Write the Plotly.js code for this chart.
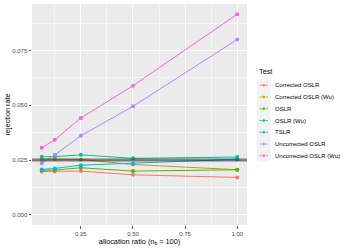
<!DOCTYPE html>
<html>
<head>
<meta charset="utf-8">
<script src="https://cdn.plot.ly/plotly-3.0.1.min.js"></script>
<style>html,body{margin:0;padding:0;background:#fff;}#chart{width:349px;height:249px;}</style>
</head>
<body>
<div id="chart"></div>
<script>
// ---- data ----
const allocationRatio = [0.0625, 0.125, 0.25, 0.5, 1];
const testNames = ["Corrected OSLR", "Corrected OSLR (Wu)", "OSLR", "OSLR (Wu)", "TSLR", "Uncorrected OSLR", "Uncorrected OSLR (Wu)"];
const correctedOSLR     = [0.0198, 0.0198, 0.0200, 0.0183, 0.0171];
const correctedOSLRWu   = [0.0255, 0.0255, 0.0253, 0.0230, 0.0206];
const OSLR              = [0.0203, 0.0205, 0.0215, 0.0200, 0.0206];
const OSLRWu            = [0.0265, 0.0266, 0.0274, 0.0258, 0.0264];
const TSLR              = [0.0207, 0.0212, 0.0227, 0.0235, 0.0254];
const uncorrectedOSLR   = [0.0236, 0.0274, 0.0361, 0.0495, 0.0800];
const uncorrectedOSLRWu = [0.0306, 0.0343, 0.0442, 0.0589, 0.0915];
const seriesValues = [correctedOSLR, correctedOSLRWu, OSLR, OSLRWu, TSLR, uncorrectedOSLR, uncorrectedOSLRWu];
const nominalLevel = 0.025;
const yTickVals = [0, 0.025, 0.05, 0.075];
const yTickText = ["0.000", "0.025", "0.050", "0.075"];
const xTickVals = [0.25, 0.5, 0.75, 1];
const xTickText = ["0.25", "0.50", "0.75", "1.00"];

// ---- style ----
const colors = ["#F8766D", "#C49A00", "#53B400", "#00C094", "#00B6EB", "#A58AFF", "#FB61D7"];
const FONT = "Liberation Sans, Arial, sans-serif";
const W = 349, H = 249, ML = 32, MR = 0, MT = 4, MB = 24;
const plotW = W - ML - MR, plotH = H - MT - MB;
const panelRight = 247;
const mainDomX = [0, (panelRight - ML) / plotW];
const keyX0 = 257, keyX1 = 270.5, keyY0 = 79.3, keyY1 = 161.7;
const toPX = px => (px - ML) / plotW;
const toPY = py => (H - MB - py) / plotH;

const traces = [];
testNames.forEach((name, i) => {
  traces.push({
    x: allocationRatio, y: seriesValues[i], type: "scatter", mode: "lines+markers",
    name: name, showlegend: false,
    line: {color: colors[i], width: 1},
    marker: {color: colors[i], size: 4},
    xaxis: "x", yaxis: "y", hoverinfo: "skip"
  });
});
// legend keys drawn in an overlay subplot
testNames.forEach((name, i) => {
  traces.push({
    x: [0.2, 0.5, 0.8], y: [i, i, i], type: "scatter", mode: "lines+markers",
    showlegend: false,
    line: {color: colors[i], width: 1},
    marker: {color: colors[i], size: [0, 4, 0]},
    xaxis: "x2", yaxis: "y2", hoverinfo: "skip"
  });
});

const annotations = testNames.map((name, i) => ({
  text: name, xref: "paper", yref: "y2", x: toPX(273), y: i,
  xanchor: "left", yanchor: "middle", showarrow: false,
  font: {family: FONT, size: 6, color: "#000"}
}));
annotations.push({
  text: "Test", xref: "paper", yref: "paper", x: toPX(keyX0 - 0.5), y: toPY(71),
  xanchor: "left", yanchor: "middle", showarrow: false,
  font: {family: FONT, size: 7.3, color: "#000"}
});

const layout = {
  width: W, height: H,
  margin: {l: ML, r: MR, t: MT, b: MB, pad: 0},
  paper_bgcolor: "#FFFFFF",
  plot_bgcolor: "#F2F2F2",
  showlegend: false,
  font: {family: FONT, size: 6, color: "#4D4D4D"},
  xaxis: {
    domain: mainDomX, range: [0.0156, 1.0469], autorange: false,
    tickvals: xTickVals, ticktext: xTickText,
    ticks: "outside", ticklen: 2.5, tickwidth: 0.8, tickcolor: "#333333",
    tickfont: {family: FONT, size: 6, color: "#4D4D4D"},
    showgrid: true, gridcolor: "#FFFFFF", gridwidth: 1,
    minor: {dtick: 0.125, tick0: 0, showgrid: true, gridcolor: "#FFFFFF", gridwidth: 0.5, ticks: ""},
    zeroline: false, showline: false,
    title: {text: "allocation ratio (n<sub>b</sub> = 100)", font: {family: FONT, size: 7.3, color: "#000"}, standoff: 1}
  },
  yaxis: {
    domain: [0, 1], range: [-0.00458, 0.09616], autorange: false,
    tickvals: yTickVals, ticktext: yTickText,
    ticks: "outside", ticklen: 2.5, tickwidth: 0.8, tickcolor: "#333333",
    tickfont: {family: FONT, size: 6, color: "#4D4D4D"},
    showgrid: true, gridcolor: "#FFFFFF", gridwidth: 1,
    minor: {dtick: 0.0125, tick0: 0, showgrid: true, gridcolor: "#FFFFFF", gridwidth: 0.5, ticks: ""},
    zeroline: false, showline: false,
    title: {text: "rejection rate", font: {family: FONT, size: 7.3, color: "#000"}, standoff: 0.5}
  },
  xaxis2: {
    domain: [toPX(keyX0), toPX(keyX1)], range: [0, 1], autorange: false, anchor: "y2",
    showgrid: false, zeroline: false, showticklabels: false, ticks: "", showline: false
  },
  yaxis2: {
    domain: [toPY(keyY1), toPY(keyY0)], range: [testNames.length - 0.5, -0.5], autorange: false, anchor: "x2",
    showgrid: false, zeroline: false, showticklabels: false, ticks: "", showline: false
  },
  shapes: [
    {type: "rect", xref: "x domain", yref: "y domain", x0: 0, x1: 1, y0: 0, y1: 1,
     fillcolor: "#EBEBEB", line: {width: 0}, layer: "below"},
    {type: "line", xref: "x domain", yref: "y", x0: 0, x1: 1, y0: nominalLevel, y1: nominalLevel,
     line: {color: "rgba(60,60,60,0.45)", width: 3.5}, layer: "above"},
    {type: "line", xref: "x domain", yref: "y", x0: 0, x1: 1, y0: nominalLevel, y1: nominalLevel,
     line: {color: "rgba(30,30,30,0.55)", width: 1}, layer: "above"}
  ],
  annotations: annotations
};

Plotly.newPlot("chart", traces, layout, {displayModeBar: false, staticPlot: true});
</script>
</body>
</html>
